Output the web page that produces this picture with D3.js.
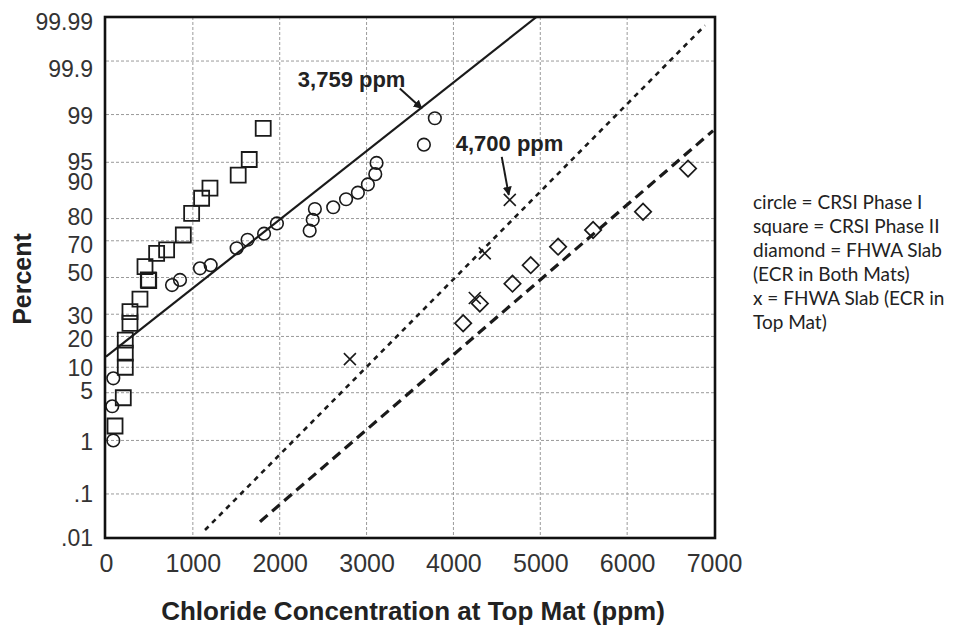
<!DOCTYPE html>
<html>
<head>
<meta charset="utf-8">
<script src="https://cdn.jsdelivr.net/npm/d3@7"></script>
<style>
  html, body { margin: 0; padding: 0; background: #fff; }
  svg { display: block; }
</style>
</head>
<body>
<svg id="chart" width="964" height="627"></svg>
<script>
// ---------------- data ----------------
const xTicks = [0, 1000, 2000, 3000, 4000, 5000, 6000, 7000];
const percentTicks = [0.01, 0.1, 1, 5, 10, 20, 30, 50, 70, 80, 90, 95, 99, 99.9, 99.99];
const percentLabels = [".01", ".1", "1", "5", "10", "20", "30", "50", "70", "80", "90", "95", "99", "99.9", "99.99"];
const gridPercents = [0.1, 1, 5, 10, 20, 30, 50, 70, 80, 95, 99, 99.9];

// circle = CRSI Phase I
const circleX = [84, 72, 84, 760, 852, 1082, 1205, 1504, 1630, 1820, 1968, 2345, 2380, 2405, 2616, 2764, 2900, 3015, 3100, 3115, 3660, 3786];
const circleP = [1.0, 3.3, 7.5, 45.7, 48.6, 55.2, 57, 66.2, 70.5, 73.4, 78, 74.8, 79.5, 83.6, 84.2, 86.8, 88.7, 90.8, 93, 94.9, 97.1, 98.85];

// square = CRSI Phase II
const squareX = [104, 199, 222, 222, 222, 276, 276, 391, 487, 492, 449, 583, 698, 890, 986, 1101, 1197, 1522, 1649, 1810];
const squareP = [1.7, 4.3, 10, 14, 18.6, 25.6, 31.3, 37.9, 48.6, 48.3, 56.2, 63.5, 65.3, 72.8, 82, 87.1, 89.9, 92.8, 95.4, 98.34];

// diamond = FHWA Slab (ECR in Both Mats)
const diamondX = [4112, 4304, 4680, 4890, 5205, 5608, 6183, 6701];
const diamondP = [25.7, 35.5, 46.5, 57, 67, 75.1, 82.6, 94];

// x = FHWA Slab (ECR in Top Mat)
const xmarkX = [2808, 4246, 4361, 4649];
const xmarkP = [12.2, 38.5, 63.5, 86.6];

// fitted lines (straight on probability paper), endpoints
const fitSolidX = [0, 4956],   fitSolidP = [12.9, 99.99];
const fitDottedX = [1140, 6896], fitDottedP = [0.0156, 99.984];
const fitDashedX = [1773, 6990], fitDashedP = [0.0245, 98.2];

// annotations
const annoText = ["3,759 ppm", "4,700 ppm"];
const annoX = [3636, 4637];
const annoP = [99.21, 88.1];

const legendLines = ["circle = CRSI Phase I", "square = CRSI Phase II", "diamond = FHWA Slab", "(ECR in Both Mats)", "x = FHWA Slab (ECR in", "Top Mat)"];

const xTitle = "Chloride Concentration at Top Mat (ppm)";
const yTitle = "Percent";

// ---------------- helpers ----------------
function probit(p) {
  // Acklam inverse normal CDF
  const a = [-3.969683028665376e+01, 2.209460984245205e+02, -2.759285104469687e+02, 1.383577518672690e+02, -3.066479806614716e+01, 2.506628277459239e+00];
  const b = [-5.447609879822406e+01, 1.615858368580409e+02, -1.556989798598866e+02, 6.680131188771972e+01, -1.328068155288572e+01];
  const c = [-7.784894002430293e-03, -3.223964580411365e-01, -2.400758277161838e+00, -2.549732539343734e+00, 4.374664141464968e+00, 2.938163982698783e+00];
  const d = [7.784695709041462e-03, 3.224671290700398e-01, 2.445134137142996e+00, 3.754408661907416e+00];
  const pl = 0.02425, ph = 1 - pl;
  let q, r;
  if (p < pl) {
    q = Math.sqrt(-2 * Math.log(p));
    return (((((c[0]*q+c[1])*q+c[2])*q+c[3])*q+c[4])*q+c[5]) / ((((d[0]*q+d[1])*q+d[2])*q+d[3])*q+1);
  } else if (p <= ph) {
    q = p - 0.5; r = q*q;
    return (((((a[0]*r+a[1])*r+a[2])*r+a[3])*r+a[4])*r+a[5])*q / (((((b[0]*r+b[1])*r+b[2])*r+b[3])*r+b[4])*r+1);
  } else {
    q = Math.sqrt(-2 * Math.log(1 - p));
    return -(((((c[0]*q+c[1])*q+c[2])*q+c[3])*q+c[4])*q+c[5]) / ((((d[0]*q+d[1])*q+d[2])*q+d[3])*q+1);
  }
}

// ---------------- layout ----------------
const svg = d3.select("#chart");
const L = 106, R = 714, T = 17, B = 538;

const x = d3.scaleLinear().domain([0, 7000]).range([L, R]);
const yz = d3.scaleLinear().domain([probit(0.0001), probit(0.9999)]).range([B, T]);
const y = p => yz(probit(p / 100));

const ink = "#1a1a1a";

// clip
const defs = svg.append("defs");
defs.append("clipPath").attr("id", "plotclip")
  .append("rect").attr("x", L).attr("y", T).attr("width", R - L).attr("height", B - T);
defs.append("marker").attr("id", "arrow").attr("viewBox", "0 0 10 10")
  .attr("refX", 9).attr("refY", 5).attr("markerWidth", 9).attr("markerHeight", 9)
  .attr("markerUnits", "userSpaceOnUse").attr("orient", "auto")
  .append("path").attr("d", "M0,0 L10,5 L0,10 z").attr("fill", ink);

// grid
const grid = svg.append("g");
grid.selectAll("line.v").data(xTicks.slice(1, -1)).join("line")
  .attr("x1", d => x(d)).attr("x2", d => x(d)).attr("y1", T).attr("y2", B)
  .attr("stroke", "#9a9a9a").attr("stroke-width", 1).attr("stroke-dasharray", "3,2");
grid.selectAll("line.h").data(gridPercents).join("line")
  .attr("x1", L).attr("x2", R).attr("y1", d => y(d)).attr("y2", d => y(d))
  .attr("stroke", "#9a9a9a").attr("stroke-width", 1).attr("stroke-dasharray", "3,2");

// axes
// small vertical nudges of tick labels, as laid out in the original figure (px)
const labelNudge = {"99.99": 5.5, "99.9": 8, "99": 2, "90": -6, "80": -1, "70": 4, "50": -4, "30": 2, "20": 3, "10": 1, "5": -2, "1": 1.5};
const yAxis = d3.axisLeft(yz)
  .tickValues(percentTicks.map(p => probit(p / 100)))
  .tickFormat((d, i) => percentLabels[i]).tickSize(0).tickPadding(13);
const gy = svg.append("g").attr("transform", `translate(${L},0)`).call(yAxis);
gy.select(".domain").remove();
gy.selectAll("text").attr("font-family", "'Liberation Sans', Arial, sans-serif")
  .attr("font-size", 23).attr("fill", "#333")
  .attr("y", function() { return labelNudge[this.textContent] || 0; });

const xAxis = d3.axisBottom(x).tickValues(xTicks).tickFormat(d3.format("d")).tickSize(0).tickPadding(16);
const gx = svg.append("g").attr("transform", `translate(0,${B})`).call(xAxis);
gx.select(".domain").remove();
gx.selectAll("text").attr("font-family", "'Liberation Sans', Arial, sans-serif")
  .attr("font-size", 25).attr("fill", "#333");

// titles
svg.append("text").attr("x", 413).attr("y", 620).attr("text-anchor", "middle")
  .attr("font-family", "'Liberation Sans', Arial, sans-serif").attr("font-weight", "bold")
  .attr("font-size", 26).attr("fill", "#222").text(xTitle);
svg.append("text").attr("transform", "translate(31,279) rotate(-90)").attr("text-anchor", "middle")
  .attr("font-family", "'Liberation Sans', Arial, sans-serif").attr("font-weight", "bold")
  .attr("font-size", 25).attr("fill", "#222").text(yTitle);

// fit lines
const plot = svg.append("g").attr("clip-path", "url(#plotclip)");
const lineGen = d3.line().x(d => x(d[0])).y(d => y(d[1]));
plot.append("path").datum(d3.zip(fitSolidX, fitSolidP)).attr("d", lineGen)
  .attr("fill", "none").attr("stroke", ink).attr("stroke-width", 2.2);
plot.append("path").datum(d3.zip(fitDottedX, fitDottedP)).attr("d", lineGen)
  .attr("fill", "none").attr("stroke", ink).attr("stroke-width", 2.6).attr("stroke-dasharray", "5,5");
plot.append("path").datum(d3.zip(fitDashedX, fitDashedP)).attr("d", lineGen)
  .attr("fill", "none").attr("stroke", ink).attr("stroke-width", 3.2).attr("stroke-dasharray", "10,6");

// markers
const pts = svg.append("g");
pts.selectAll("circle.c").data(d3.zip(circleX, circleP)).join("circle")
  .attr("cx", d => x(d[0])).attr("cy", d => y(d[1])).attr("r", 6.3)
  .attr("fill", "none").attr("stroke", ink).attr("stroke-width", 1.6);
pts.selectAll("path.s").data(d3.zip(squareX, squareP)).join("path")
  .attr("transform", d => `translate(${x(d[0])},${y(d[1])})`)
  .attr("d", d3.symbol(d3.symbolSquare, 225)())
  .attr("fill", "none").attr("stroke", ink).attr("stroke-width", 1.8);
pts.selectAll("path.d").data(d3.zip(diamondX, diamondP)).join("path")
  .attr("transform", d => `translate(${x(d[0])},${y(d[1])}) rotate(45)`)
  .attr("d", d3.symbol(d3.symbolSquare, 135)())
  .attr("fill", "none").attr("stroke", ink).attr("stroke-width", 1.7);
pts.selectAll("path.x").data(d3.zip(xmarkX, xmarkP)).join("path")
  .attr("transform", d => `translate(${x(d[0])},${y(d[1])})`)
  .attr("d", "M-6,-6L6,6M-6,6L6,-6")
  .attr("fill", "none").attr("stroke", ink).attr("stroke-width", 1.6);

// annotations
const annoOffsets = [{tx: -124, ty: -21, ax: -22, ay: -20}, {tx: -53, ty: -44, ax: -7, ay: -38}];
annoText.forEach((t, i) => {
  const px = x(annoX[i]), py = y(annoP[i]), o = annoOffsets[i];
  svg.append("text").attr("x", px + o.tx).attr("y", py + o.ty)
    .attr("font-family", "'Liberation Sans', Arial, sans-serif").attr("font-weight", "bold")
    .attr("font-size", 22).attr("fill", "#222").text(t);
  svg.append("line").attr("x1", px + o.ax).attr("y1", py + o.ay).attr("x2", px).attr("y2", py)
    .attr("stroke", ink).attr("stroke-width", 2).attr("marker-end", "url(#arrow)");
});

// frame
svg.append("rect").attr("x", L - 1).attr("y", T).attr("width", R - L + 2).attr("height", B - T)
  .attr("fill", "none").attr("stroke", "#111").attr("stroke-width", 2.6);

// legend text
svg.append("g").selectAll("text").data(legendLines).join("text")
  .attr("x", 753).attr("y", (d, i) => 209 + i * 24)
  .attr("font-family", "Lato, 'Noto Sans', sans-serif").attr("font-size", 19).attr("fill", "#222")
  .text(d => d);
</script>
</body>
</html>
